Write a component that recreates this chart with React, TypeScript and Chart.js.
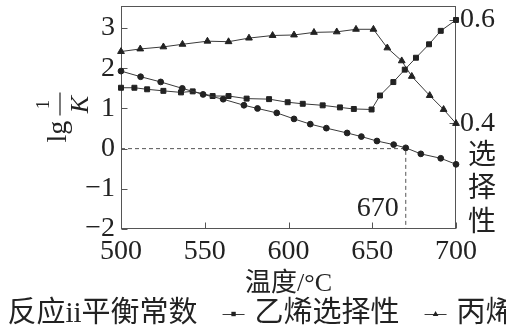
import React, { useEffect, useRef } from 'react';
import { Chart, registerables } from 'chart.js';

Chart.register(...registerables);

// ---- data ----
const kTemps = [500, 511.7, 523.7, 536.6, 549, 561, 573.4, 581.5, 593, 603.3, 613, 622.6, 635, 643.5, 652.8, 662.8, 670, 679, 690.9, 700];
const kValues = [1.93, 1.79, 1.66, 1.5, 1.35, 1.23, 1.08, 1.0, 0.89, 0.74, 0.61, 0.51, 0.39, 0.3, 0.19, 0.1, 0.02, -0.13, -0.24, -0.39];

const ethTemps = [500, 508, 515.6, 525.3, 535.8, 542.8, 554.7, 564.2, 575, 588.4, 599.5, 608.5, 620.4, 630.7, 639, 649.6, 654.6, 662.6, 669.4, 676.1, 683.9, 690.9, 700];
const ethValues = [0.469, 0.469, 0.466, 0.463, 0.46, 0.462, 0.453, 0.453, 0.448, 0.447, 0.441, 0.438, 0.435, 0.431, 0.428, 0.427, 0.454, 0.48, 0.504, 0.527, 0.553, 0.579, 0.6];

const proTemps = [500, 511.5, 525.3, 536.7, 551.6, 564.2, 576.4, 590.5, 603.3, 615.2, 628.8, 640.3, 650.7, 659, 667.6, 673.6, 684.3, 692.6, 700];
const proValues = [0.539, 0.544, 0.548, 0.553, 0.559, 0.558, 0.565, 0.57, 0.571, 0.576, 0.577, 0.582, 0.582, 0.546, 0.521, 0.491, 0.454, 0.427, 0.4];

const seriesLabels = ['反应ii平衡常数', '乙烯选择性', '丙烯选择性'];
const xTicks = [500, 550, 600, 650, 700];
const leftTicks = [-2, -1, 0, 1, 2, 3];
const rightTicks = [0.4, 0.6];
const xRange = [500, 700];
const leftRange = [-2, 3.55];
const rightRange = [0.196, 0.627];
const refTemp = 670;
const refK = 0;
const refLabel = '670';
const refLabelK = -1.5;
const xTitle = '温度/°C';
const rightTitle = ['选', '择', '性'];

const SERIF = '"Liberation Serif", "Times New Roman", serif';
const MIXED = '"Liberation Serif", "Noto Sans CJK SC", serif';
const CJK = '"Noto Sans CJK SC", sans-serif';
const INK = '#222';
const LINE = '#3a3a3a';

function drawMarker(ctx: CanvasRenderingContext2D, style: string, x: number, y: number, r: number) {
  ctx.beginPath();
  if (style === 'circle') {
    ctx.arc(x, y, r, 0, Math.PI * 2);
  } else if (style === 'rect') {
    ctx.rect(x - r, y - r, 2 * r, 2 * r);
  } else {
    ctx.moveTo(x, y - r * 1.1);
    ctx.lineTo(x + r, y + r * 0.7);
    ctx.lineTo(x - r, y + r * 0.7);
    ctx.closePath();
  }
  ctx.fill();
}

const decor = {
  id: 'decor',
  beforeDatasetsDraw(chart: any) {
    const { ctx, chartArea: a, scales } = chart;
    ctx.save();
    ctx.strokeStyle = '#555';
    ctx.lineWidth = 1;
    const L = Math.round(a.left) + 0.5;
    const R = Math.round(a.right) - 0.5;
    const T = Math.round(a.top) + 0.5;
    const B = Math.round(a.bottom) - 0.5;
    ctx.strokeRect(L, T, R - L, B - T);
    ctx.beginPath();
    for (const t of xTicks) {
      const px = Math.round(scales.x.getPixelForValue(t)) + 0.5;
      ctx.moveTo(px, B);
      ctx.lineTo(px, B - 6);
    }
    for (const v of leftTicks) {
      const py = Math.round(scales.y.getPixelForValue(v)) + 0.5;
      ctx.moveTo(L, py);
      ctx.lineTo(L + 6, py);
    }
    for (const v of rightTicks) {
      const py = Math.round(scales.y1.getPixelForValue(v)) + 0.5;
      ctx.moveTo(R, py);
      ctx.lineTo(R - 6, py);
    }
    ctx.stroke();
    ctx.restore();
  },
  afterDraw(chart: any) {
    const { ctx, chartArea: a, scales } = chart;
    ctx.save();
    ctx.fillStyle = INK;
    ctx.strokeStyle = INK;

    // left axis title: lg 1/K (rotated)
    ctx.save();
    ctx.translate(a.left - 55, (a.top + a.bottom) / 2 + 25);
    ctx.rotate(-Math.PI / 2);
    ctx.textBaseline = 'alphabetic';
    ctx.textAlign = 'left';
    ctx.font = `28px ${SERIF}`;
    ctx.fillText('lg', 0, 0);
    ctx.textAlign = 'center';
    ctx.font = `18px ${SERIF}`;
    ctx.fillText('1', 38, -17);
    ctx.lineWidth = 1.2;
    ctx.beginPath();
    ctx.moveTo(27, -6);
    ctx.lineTo(50, -6);
    ctx.stroke();
    ctx.font = `italic 26px ${SERIF}`;
    ctx.fillText('K', 38, 22);
    ctx.restore();

    // right axis title, stacked
    ctx.font = `28px ${CJK}`;
    ctx.textAlign = 'center';
    ctx.textBaseline = 'middle';
    rightTitle.forEach((ch, i) => {
      ctx.fillText(ch, a.right + 26, a.top + 147 + i * 33.5);
    });

    // reference label
    ctx.font = `28px ${SERIF}`;
    ctx.textAlign = 'right';
    ctx.fillText(refLabel, scales.x.getPixelForValue(refTemp) - 7, scales.y.getPixelForValue(refLabelK));

    // legend
    const items = chart.data.datasets.filter((d: any) => !d.isRef);
    ctx.font = `29px ${MIXED}`;
    const lineLen = 22;
    const gap = 10;
    const itemGap = 25;
    const widths = items.map((d: any) => lineLen + gap + ctx.measureText(d.label).width);
    const total = widths.reduce((s: number, w: number) => s + w, 0) + itemGap * (items.length - 1);
    let x = (a.left + a.right) / 2 - total / 2;
    const y = a.bottom + 85;
    items.forEach((d: any, i: number) => {
      ctx.strokeStyle = LINE;
      ctx.lineWidth = 1;
      ctx.beginPath();
      ctx.moveTo(x, y + 0.5);
      ctx.lineTo(x + lineLen, y + 0.5);
      ctx.stroke();
      ctx.fillStyle = INK;
      drawMarker(ctx, d.pointStyle, x + lineLen / 2, y, d.pointStyle === 'circle' ? 2.3 : d.pointStyle === 'rect' ? 2.2 : 2.8);
      ctx.textAlign = 'left';
      ctx.textBaseline = 'middle';
      ctx.fillText(d.label, x + lineLen + gap, y);
      x += widths[i] + itemGap;
    });
    ctx.restore();
  },
};

const toPts = (xs: number[], ys: number[]) => xs.map((x, i) => ({ x, y: ys[i] }));

export default function App() {
  const ref = useRef<HTMLCanvasElement>(null);
  useEffect(() => {
    if (!ref.current) return;
    const base = {
      borderColor: LINE,
      borderWidth: 1,
      pointBackgroundColor: INK,
      pointBorderColor: INK,
      pointBorderWidth: 1,
      clip: false as const,
      tension: 0,
    };
    const chart = new Chart(ref.current, {
      type: 'line',
      data: {
        datasets: [
          { ...base, label: seriesLabels[0], data: toPts(kTemps, kValues), yAxisID: 'y', pointStyle: 'circle', pointRadius: 2.9 },
          { ...base, label: seriesLabels[1], data: toPts(ethTemps, ethValues), yAxisID: 'y1', pointStyle: 'rect', pointRadius: 3.5 },
          { ...base, label: seriesLabels[2], data: toPts(proTemps, proValues), yAxisID: 'y1', pointStyle: 'triangle', pointRadius: 3.9 },
          {
            label: 'ref', isRef: true, yAxisID: 'y',
            data: [{ x: xRange[0], y: refK }, { x: refTemp, y: refK }, { x: refTemp, y: leftRange[0] }],
            borderColor: '#555', borderWidth: 1, borderDash: [4, 3], pointRadius: 0, tension: 0,
          } as any,
        ],
      },
      options: {
        animation: false,
        responsive: false,
        devicePixelRatio: 1,
        layout: { padding: { top: 6, left: 0, right: 0, bottom: 0 } },
        plugins: { legend: { display: false }, tooltip: { enabled: false } },
        scales: {
          x: {
            type: 'linear',
            min: xRange[0],
            max: xRange[1],
            grid: { display: false, drawTicks: false },
            border: { display: false },
            afterBuildTicks: (s: any) => { s.ticks = xTicks.map((v) => ({ value: v })); },
            afterFit: (s: any) => { s.height = 99; s.paddingLeft = 0; s.paddingRight = 0; },
            ticks: { padding: 6, maxRotation: 0, autoSkip: false, color: INK, font: { family: SERIF, size: 28 } },
            title: { display: true, text: xTitle, color: INK, font: { family: MIXED, size: 26 }, padding: { top: 0, bottom: 28 } },
          },
          y: {
            type: 'linear',
            position: 'left',
            min: leftRange[0],
            max: leftRange[1],
            grid: { display: false, drawTicks: false },
            border: { display: false },
            afterBuildTicks: (s: any) => { s.ticks = leftTicks.map((v) => ({ value: v })); },
            afterFit: (s: any) => { s.width = 197; s.paddingTop = 0; s.paddingBottom = 0; },
            ticks: {
              padding: 6, color: INK, font: { family: SERIF, size: 28 },
              callback: (v: any) => (v < 0 ? '\u2212' + Math.abs(v) : String(v)),
            },
          },
          y1: {
            type: 'linear',
            position: 'right',
            min: rightRange[0],
            max: rightRange[1],
            grid: { display: false, drawTicks: false },
            border: { display: false },
            afterBuildTicks: (s: any) => { s.ticks = rightTicks.map((v) => ({ value: v })); },
            afterFit: (s: any) => { s.width = 188; s.paddingTop = 0; s.paddingBottom = 0; },
            ticks: {
              padding: 4, color: INK, font: { family: SERIF, size: 28 },
              callback: (v: any) => Number(v).toFixed(1),
            },
          },
        },
      },
      plugins: [decor],
    } as any);
    return () => chart.destroy();
  }, []);

  return (
    <div style={{ position: 'fixed', left: 0, top: 0, width: 506, height: 328, overflow: 'hidden', background: '#fff' }}>
      <canvas ref={ref} width={720} height={328} style={{ position: 'absolute', left: -76, top: 0, width: 720, height: 328 }} />
    </div>
  );
}
